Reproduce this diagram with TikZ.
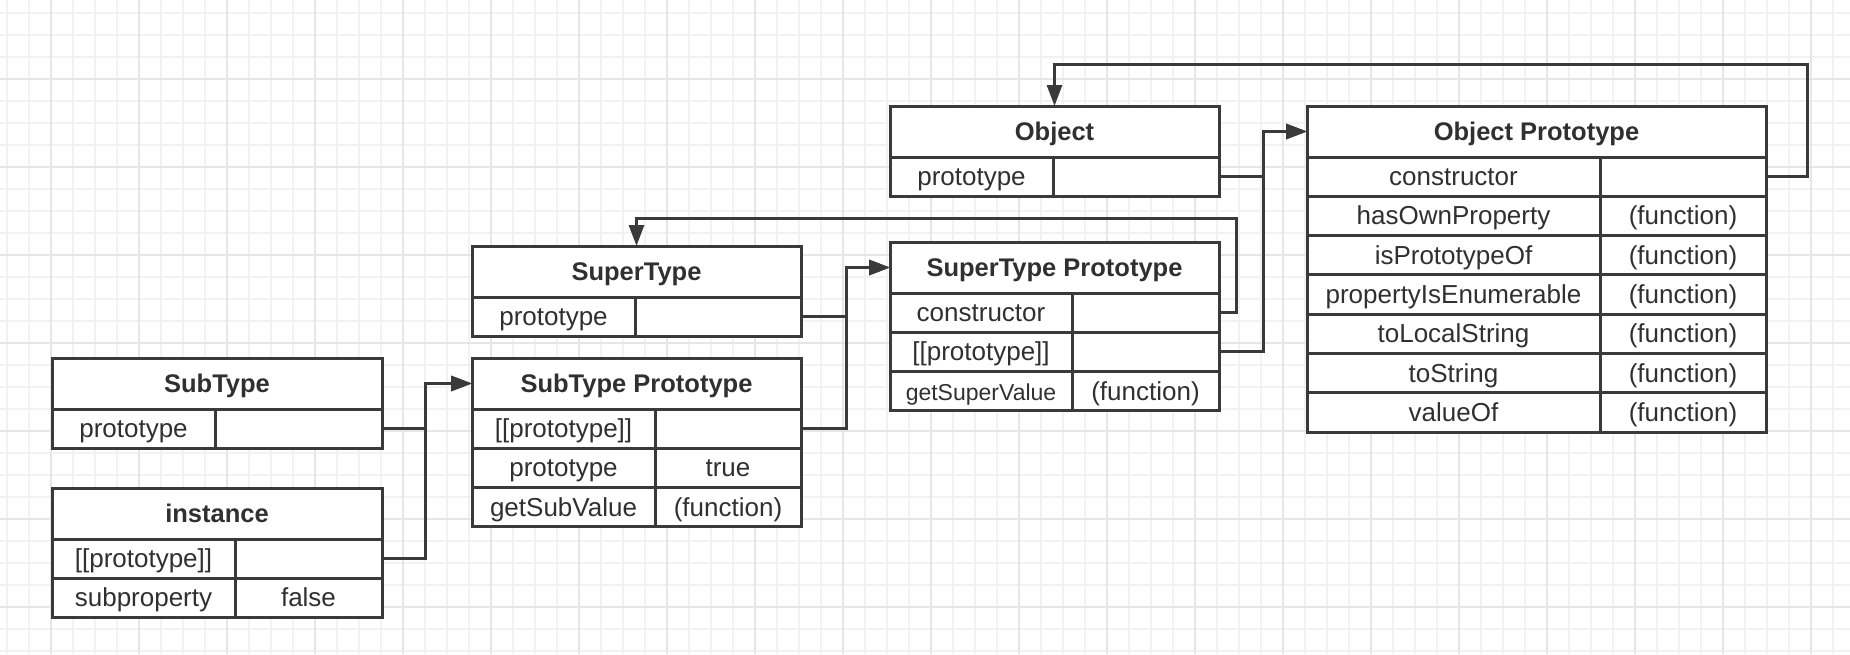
\documentclass[tikz,border=0pt]{standalone}
\usepackage{fontspec}
\setmainfont{Liberation Sans}
\usetikzlibrary{arrows.meta,positioning}
\definecolor{linec}{HTML}{3A3A3A}
\definecolor{txtc}{HTML}{303030}
\definecolor{gridminor}{HTML}{F2F2F2}
\definecolor{gridmajor}{HTML}{E6E6E6}

\begin{document}
\begin{tikzpicture}[x=1pt,y=-1pt,>={Triangle[length=21pt,width=15pt]},
  hdr/.style={draw=linec,line width=3pt,fill=white,text=txtc,anchor=north west,
    inner sep=0pt,outer sep=0pt,minimum height=51pt,text height=22pt,text depth=3.6pt,
    font=\fontsize{25.5}{28}\selectfont\bfseries},
  cell/.style={draw=linec,line width=3pt,fill=white,text=txtc,anchor=north west,
    inner sep=0pt,outer sep=0pt,minimum height=39.3pt,text height=21pt,text depth=3pt,
    font=\fontsize{26}{28}\selectfont},
  link/.style={draw=linec,line width=3pt,->}]
\useasboundingbox (0,0) rectangle (1850,654);
% grid paper
\foreach \x in {7,29,...,1850} \draw[gridminor,line width=1.6pt] (\x,0) -- (\x,654);
\foreach \y in {12.7,34.7,...,654} \draw[gridminor,line width=1.6pt] (0,\y) -- (1850,\y);
\foreach \x in {51,139,...,1850} \draw[gridmajor,line width=1.8pt] (\x,0) -- (\x,654);
\foreach \y in {78.7,166.7,...,654} \draw[gridmajor,line width=1.8pt] (0,\y) -- (1850,\y);

% SubType
\node[hdr,minimum width=330pt] (sub) at (52,358) {SubType};
\node[cell,minimum width=163pt] (sub-k1) at (sub.south west) {prototype};
\node[cell,minimum width=167pt] (sub-v1) at (sub-k1.north east) {};
% instance
\node[hdr,minimum width=330pt] (inst) at (52,488) {instance};
\foreach \k/\v [count=\i] in {{[[prototype]]}/{},subproperty/false}
  {\node[cell,minimum width=183pt] (inst-k\i) at (52,{539+(\i-1)*39.3}) {\k};
   \node[cell,minimum width=147pt] (inst-v\i) at (inst-k\i.north east) {\v};}
% SuperType
\node[hdr,minimum width=329pt] (sup) at (472,246) {SuperType};
\node[cell,minimum width=163pt] (sup-k1) at (sup.south west) {prototype};
\node[cell,minimum width=166pt] (sup-v1) at (sup-k1.north east) {};
% SubType Prototype
\node[hdr,minimum width=329pt] (subp) at (472,358) {SubType Prototype};
\foreach \k/\v [count=\i] in {{[[prototype]]}/{},prototype/true,getSubValue/(function)}
  {\node[cell,minimum width=183pt] (subp-k\i) at (472,{409+(\i-1)*39.3}) {\k};
   \node[cell,minimum width=146pt] (subp-v\i) at (subp-k\i.north east) {\v};}
% SuperType Prototype
\node[hdr,minimum width=329pt] (supp) at (890,242) {SuperType Prototype};
\foreach \k/\v [count=\i] in {constructor/{},{[[prototype]]}/{},
  {\fontsize{23}{26}\selectfont getSuperValue}/(function)}
  {\node[cell,minimum width=182pt] (supp-k\i) at (890,{293+(\i-1)*39.3}) {\k};
   \node[cell,minimum width=147pt] (supp-v\i) at (supp-k\i.north east) {\v};}
% Object
\node[hdr,minimum width=329pt] (obj) at (890,106) {Object};
\node[cell,minimum width=163pt] (obj-k1) at (obj.south west) {prototype};
\node[cell,minimum width=166pt] (obj-v1) at (obj-k1.north east) {};
% Object Prototype
\node[hdr,minimum width=459pt] (op) at (1307,106) {Object Prototype};
\foreach \k/\v [count=\i] in {constructor/{},hasOwnProperty/(function),
  isPrototypeOf/(function),propertyIsEnumerable/(function),
  toLocalString/(function),toString/(function),valueOf/(function)}
  {\node[cell,minimum width=293pt] (op-k\i) at (1307,{157+(\i-1)*39.3}) {\k};
   \node[cell,minimum width=166pt] (op-v\i) at (op-k\i.north east) {\v};}

% prototype links
\draw[link] (sub-v1.east) -- ++(43,0) |- (subp.west);
\draw[link] (inst-v1.east) -- ++(43,0) |- (subp.west);
\draw[link] (sup-v1.east) -- ++(45,0) |- (supp.west);
\draw[link] (subp-v1.east) -- ++(45,0) |- (supp.west);
\draw[link] (obj-v1.east) -- ++(44,0) |- (op.west);
\draw[link] (supp-v2.east) -- ++(44,0) |- (op.west);
% constructor links back
\coordinate (back1) at (1236,218);
\draw[link] (supp-v1.east) -| (back1) -| (sup.north);
\coordinate (back2) at (1807,64);
\draw[link] (op-v1.east) -| (back2) -| (obj.north);
\end{tikzpicture}
\end{document}
